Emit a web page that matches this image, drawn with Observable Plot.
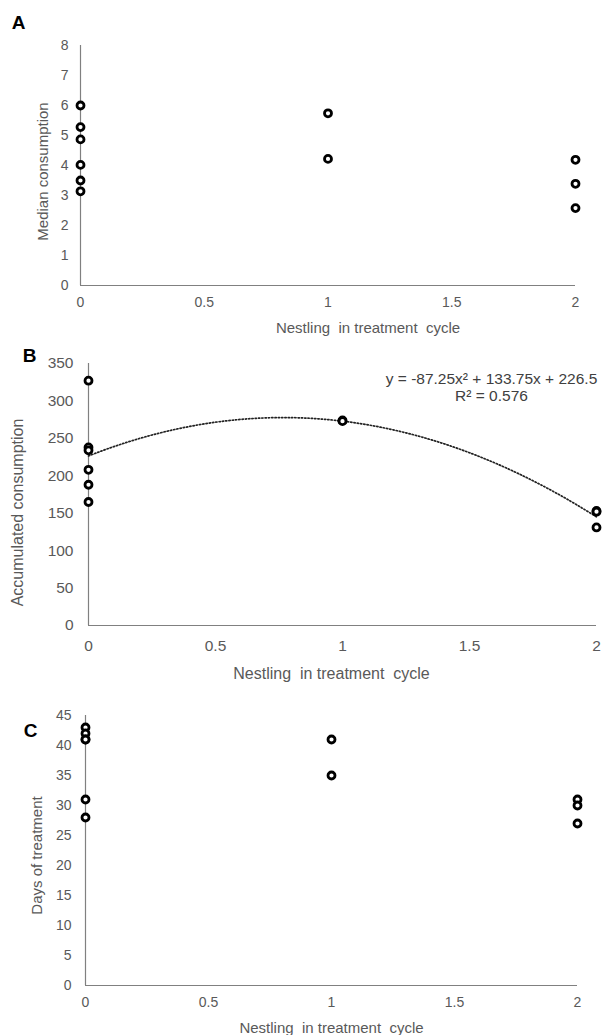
<!DOCTYPE html>
<html>
<head>
<meta charset="utf-8">
<script src="https://cdn.jsdelivr.net/npm/d3@7"></script>
<script src="https://cdn.jsdelivr.net/npm/@observablehq/plot@0.6"></script>
<style>
  html, body { margin: 0; padding: 0; background: white; }
  #wrap svg { display: block; }
</style>
</head>
<body>
<div id="wrap"></div>
<script>
// ---- data ----
const xTicks = [0, 0.5, 1, 1.5, 2];
const xTitle = "Nestling  in treatment  cycle";

// Panel A: median consumption
const aX = [0, 0, 0, 0, 0, 0, 1, 1, 2, 2, 2];
const aY = [6.0, 5.28, 4.87, 4.02, 3.5, 3.14, 5.74, 4.22, 4.19, 3.39, 2.58];
const aTicks = [0, 1, 2, 3, 4, 5, 6, 7, 8];

// Panel B: accumulated consumption
const bX = [0, 0, 0, 0, 0, 0, 1, 1, 2, 2, 2];
const bY = [327, 238, 234, 208, 188, 165, 274, 273, 153, 152, 131];
const bTicks = [0, 50, 100, 150, 200, 250, 300, 350];
const bFit = [-87.25, 133.75, 226.5]; // quadratic trendline coefficients (a, b, c)
const bEquation = "y = -87.25x² + 133.75x + 226.5\nR² = 0.576";

// Panel C: days of treatment
const cX = [0, 0, 0, 0, 0, 0, 1, 1, 2, 2, 2];
const cY = [43, 42, 41, 41, 31, 28, 41, 35, 31, 30, 27];
const cTicks = [0, 5, 10, 15, 20, 25, 30, 35, 40, 45];

// ---- build ----
const fontFamily = "'Liberation Sans', Arial, Helvetica, sans-serif";
const grey = "#595959";
const axisGrey = "#808080";
const rows = (xs, ys) => xs.map((x, i) => ({x, y: ys[i]}));
const fmt = d => String(d);

function panel(o) {
  const marks = [
    Plot.axisX({ticks: xTicks, tickFormat: fmt, tickSize: 0, tickPadding: o.xPad, label: null, fontSize: o.tickFont, fill: grey}),
    Plot.axisY({ticks: o.yTicks, tickFormat: fmt, tickSize: 0, tickPadding: o.yPad, label: null, fontSize: o.tickFont, fill: grey}),
    Plot.ruleY([0], {stroke: axisGrey, strokeWidth: 1.2}),
    Plot.ruleX([0], {stroke: axisGrey, strokeWidth: 1.2}),
    Plot.text([xTitle], {frameAnchor: "bottom", lineAnchor: "middle", textAnchor: "middle",
      dx: o.xtDx, dy: o.xtDy, fontSize: o.titleFont, fill: grey}),
    Plot.text([o.yTitle], {frameAnchor: "left", lineAnchor: "middle", textAnchor: "middle",
      rotate: -90, dx: o.ytDx, dy: o.ytDy, fontSize: o.titleFont, fill: grey}),
    Plot.text([o.letter], {frameAnchor: "top-left", lineAnchor: "middle", textAnchor: "middle",
      dx: o.lDx, dy: o.lDy, fontSize: 19, fontWeight: "bold", fill: "black"})
  ];
  if (o.extra) marks.push(...o.extra);
  marks.push(Plot.dot(rows(o.xs, o.ys), {x: "x", y: "y", r: 3.5, stroke: "black", strokeWidth: 2.8, fill: "white"}));
  return Plot.plot({
    width: 613, height: o.height,
    marginTop: o.mt, marginBottom: o.mb, marginLeft: o.ml, marginRight: o.mr,
    style: {fontFamily, fontSize: o.tickFont + "px", color: grey, background: "white", overflow: "visible"},
    x: {domain: [0, 2]},
    y: {domain: o.yDomain},
    marks
  });
}

const wrap = document.getElementById("wrap");

wrap.appendChild(panel({
  height: 340, mt: 45, mb: 55, ml: 80, mr: 38,
  xs: aX, ys: aY, yDomain: [0, 8], yTicks: aTicks,
  tickFont: 14, titleFont: 15, xPad: 12, yPad: 12,
  xtDx: 40, xtDy: 43, yTitle: "Median consumption", ytDx: -37, ytDy: 6,
  letter: "A", lDx: -62, lDy: -23
}));

// trendline sampled from the displayed fit
const curve = d3.range(0, 2.0001, 0.025).map(x => ({x, y: bFit[0] * x * x + bFit[1] * x + bFit[2]}));

wrap.appendChild(panel({
  height: 350, mt: 23, mb: 65, ml: 88, mr: 17,
  xs: bX, ys: bY, yDomain: [0, 350], yTicks: bTicks,
  tickFont: 15.5, titleFont: 16, xPad: 14, yPad: 15,
  xtDx: -11, xtDy: 48, yTitle: "Accumulated consumption", ytDx: -71, ytDy: 18,
  letter: "B", lDx: -59, lDy: -8,
  extra: [
    Plot.line(curve, {x: "x", y: "y", stroke: "#222", strokeWidth: 1.7, strokeDasharray: "1.3,2"}),
    Plot.text([bEquation], {frameAnchor: "top", lineAnchor: "middle", textAnchor: "middle",
      dx: 149, dy: 24, fontSize: 15.5, lineHeight: 1.1, fill: "#404040"})
  ]
}));

wrap.appendChild(panel({
  height: 345, mt: 25, mb: 50, ml: 85, mr: 36,
  xs: cX, ys: cY, yDomain: [0, 45], yTicks: cTicks,
  tickFont: 14, titleFont: 15, xPad: 12, yPad: 14,
  xtDx: 0, xtDy: 43, yTitle: "Days of treatment", ytDx: -48, ytDy: 5,
  letter: "C", lDx: -55, lDy: 15
}));
</script>
</body>
</html>
